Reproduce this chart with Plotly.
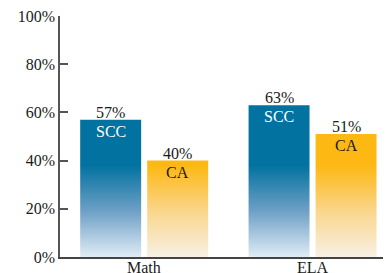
import plotly.graph_objects as go

categories = ["Math", "ELA"]
series_names = ["SCC", "CA"]
scc_values = [57, 63]
ca_values = [40, 51]
y_ticks = [0, 20, 40, 60, 80, 100]
y_tick_labels = ["0%", "20%", "40%", "60%", "80%", "100%"]

FONT = "Liberation Serif"
blue_scale = [[0, "rgb(224,236,246)"], [0.5, "rgb(110,160,198)"], [1, "rgb(2,114,160)"]]
orange_scale = [[0, "rgb(247,240,228)"], [0.5, "rgb(250,214,140)"], [1, "rgb(253,184,19)"]]

bar_offsets = {"SCC": (-0.380, -0.018), "CA": (0.018, 0.380)}

fig = go.Figure()

def bar_trace(name, values, scale):
    xs, ys = [], []
    lo, hi = bar_offsets[name]
    for i, v in enumerate(values):
        xs += [i + lo, i + hi, i + hi, i + lo, i + lo, None]
        ys += [0, 0, v, v, 0, None]
    return go.Scatter(x=xs, y=ys, mode="lines", fill="toself",
                      line=dict(width=0), hoverinfo="skip",
                      fillgradient=dict(type="vertical", colorscale=scale, start=0, stop=38),
                      showlegend=False)

fig.add_trace(bar_trace("SCC", scc_values, blue_scale))
fig.add_trace(bar_trace("CA", ca_values, orange_scale))

annotations = []
for name, values, tcolor in [("SCC", scc_values, "white"), ("CA", ca_values, "#1a1a1a")]:
    lo, hi = bar_offsets[name]
    for i, v in enumerate(values):
        xc = i + (lo + hi) / 2
        annotations.append(dict(x=xc, y=v, xref="x", yref="y", text=f"{v}%",
                                showarrow=False, yanchor="bottom", yshift=-3,
                                font=dict(family=FONT, size=16, color="#1a1a1a")))
        annotations.append(dict(x=xc, y=v, xref="x", yref="y", text=name,
                                showarrow=False, yanchor="top", yshift=-1,
                                font=dict(family=FONT, size=16, color=tcolor)))
for i, c in enumerate(categories):
    annotations.append(dict(x=i, y=0, xref="x", yref="y", text=c, showarrow=False,
                            yanchor="top", yshift=0,
                            font=dict(family=FONT, size=16, color="#1a1a1a")))

# page body has an 8px margin; figure is sized to fit the 391x273 window
fig.update_layout(
    width=383, height=265,
    margin=dict(l=52, r=1, t=8, b=16),
    plot_bgcolor="white", paper_bgcolor="white",
    font=dict(family=FONT, size=16, color="#1a1a1a"),
    annotations=annotations,
    xaxis=dict(range=[-0.5, 1.46], showticklabels=False,
               showgrid=False, zeroline=False, showline=True, linecolor="#444",
               linewidth=2, ticks="", fixedrange=True, automargin=False),
    yaxis=dict(range=[0, 100], tickvals=y_ticks, ticktext=y_tick_labels,
               showgrid=False, zeroline=False, showline=True, linecolor="#555",
               linewidth=1.5, ticks="inside", ticklen=8, tickcolor="#555",
               tickwidth=1.5, fixedrange=True, automargin=False,
               ticklabeloverflow="allow"),
)

fig.write_html("out.html")
